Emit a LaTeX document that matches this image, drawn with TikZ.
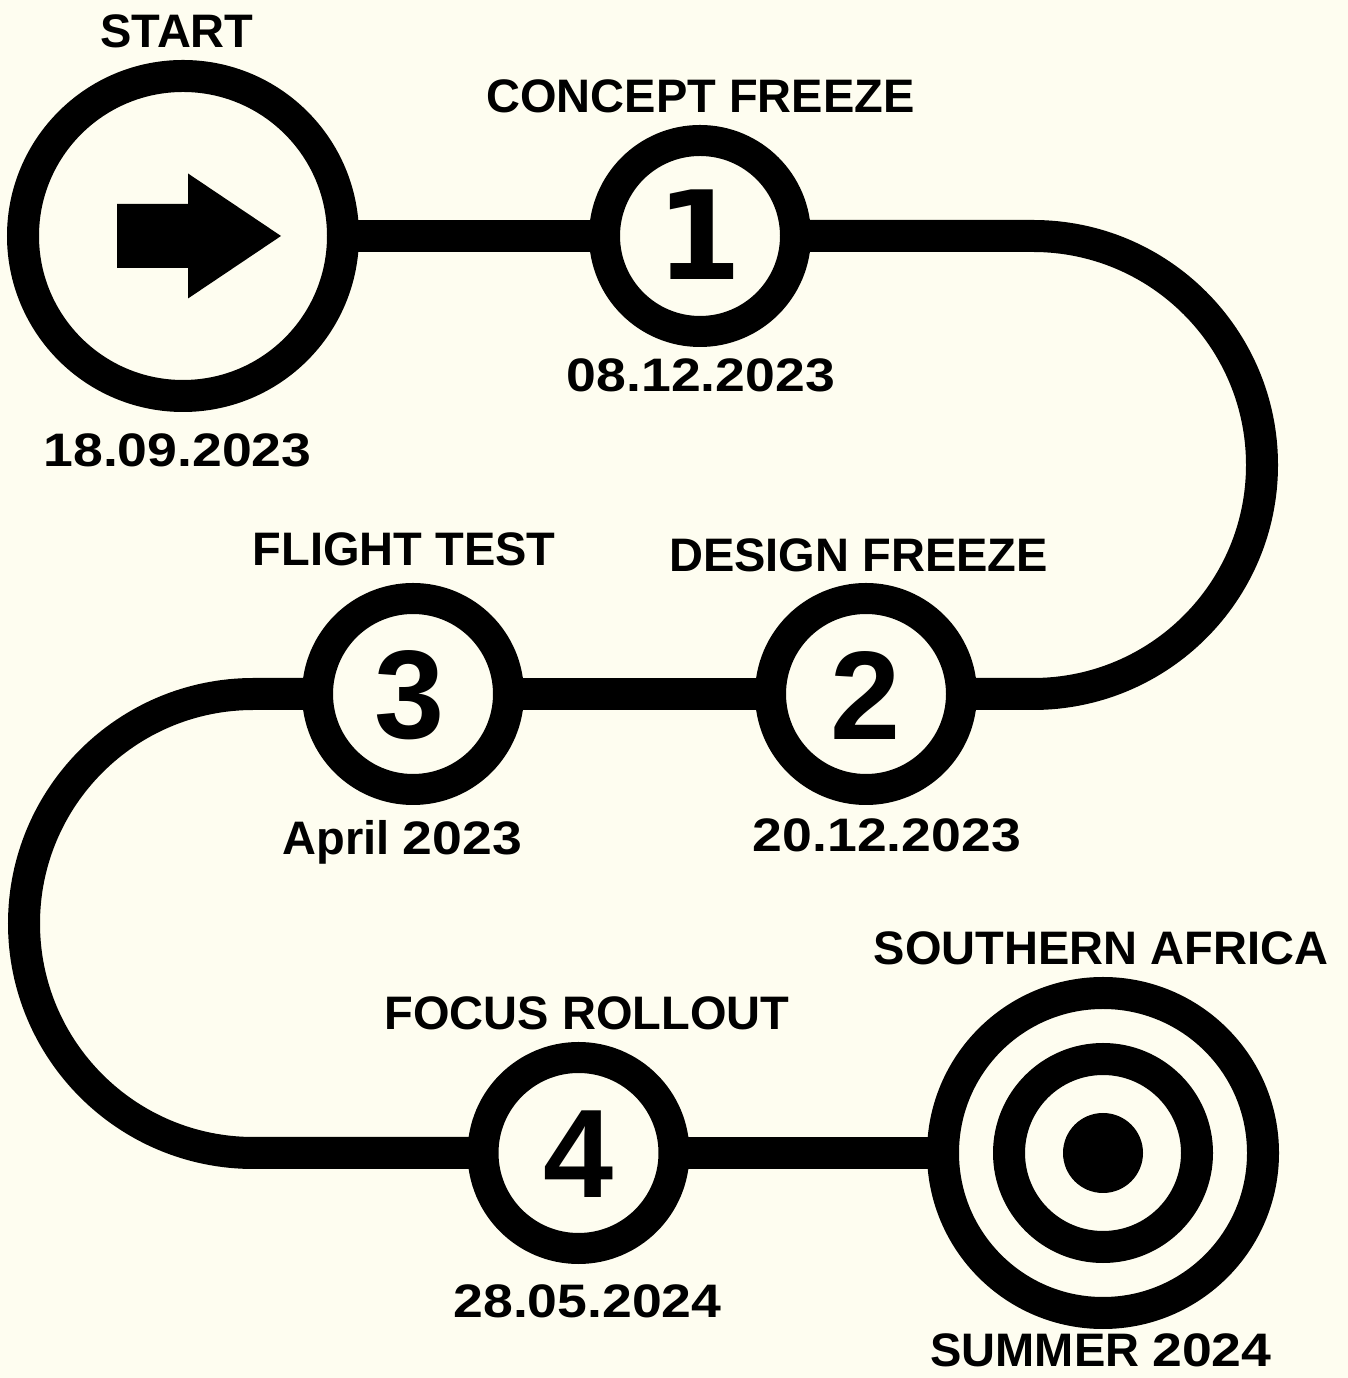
\documentclass[tikz,border=0pt]{standalone}
\usepackage{fontspec}
\setmainfont{Liberation Sans}
\newfontfamily\datefont{Liberation Sans}[FakeStretch=1.14]
\newfontfamily\onefont{DejaVu Sans}
\definecolor{bg}{HTML}{FEFDF0}
\begin{document}
\begin{tikzpicture}[x=1pt,y=1pt,
  ring/.style={circle, draw=black, fill=bg, inner sep=0pt, outer sep=0pt},
  bigring/.style={ring, line width=32pt, minimum size=320pt},
  smallring/.style={ring, line width=31pt, minimum size=191pt},
  road/.style={line width=32pt, draw=black},
  lab/.style={anchor=base, inner sep=0pt, font=\fontsize{47}{50}\selectfont\bfseries},
  datelab/.style={anchor=base, inner sep=0pt, font=\fontsize{47}{50}\selectfont\datefont\bfseries},
  num/.style={anchor=base, inner sep=0pt, font=\fontsize{126}{130}\selectfont\bfseries}
]
\fill[bg] (0,0) rectangle (1348,1378);
\useasboundingbox (0,0) rectangle (1348,1378);

% milestones
\node[bigring] (start) at (183,1142) {};
\node[smallring] (c1) at (700,1142) {};
\node[smallring] (c2) at (866,684) {};
\node[smallring] (c3) at (413,684) {};
\node[smallring] (c4) at (578.5,225) {};
\node[bigring] (target) at (1103,225) {};
\node[ring, line width=32pt, minimum size=188pt] (tring) at (target) {};
\node[circle, fill=black, inner sep=0pt, minimum size=80pt] (dot) at (target) {};

% road
\draw[road] (start) -- (c1);
\draw[road] (c1.east) -- (1033,1142) arc[start angle=90, end angle=-90, radius=229] -- (c2.east);
\draw[road] (c2) -- (c3);
\draw[road] (c3.west) -- (253.5,684) arc[start angle=90, end angle=270, radius=229.5] -- (c4.west);
\draw[road] (c4) -- (target);

% start arrow
\fill[shift={(start.center)}] (-66,-32) -- (5,-32) -- (5,-62.5) -- (98,0) -- (5,62.5) -- (5,32) -- (-66,32) -- cycle;

% numbers
\node[num, font=\fontsize{123}{130}\selectfont\onefont\bfseries] (n1) at (699.5,1098) {1};
\node[num] (n2) at (865.5,638) {2};
\node[num] (n3) at (409.5,639) {3};
\node[num] (n4) at (578.5,180) {4};

% labels
\node[lab] (lstart) at (177,1330) {START};
\node[datelab] (dstart) at (177.5,911) {18.09.2023};
\node[lab] (lc1) at (700.5,1265) {CONCEPT FREEZE};
\node[datelab] (dc1) at (701,986) {08.12.2023};
\node[lab] (lc2) at (858.5,806) {DESIGN FREEZE};
\node[datelab] (dc2) at (887,526) {20.12.2023};
\node[lab] (lc3) at (404,812) {FLIGHT TEST};
\node[lab] (dc3) at (402.5,523) {April {\datefont 2023}};
\node[lab] (lc4) at (587,348) {FOCUS ROLLOUT};
\node[datelab] (dc4) at (587.5,60) {28.05.2024};
\node[lab] (lt) at (1101,413) {SOUTHERN AFRICA};
\node[lab] (dt) at (1101,12) {SUMMER {\datefont 2024}};
\end{tikzpicture}
\end{document}
